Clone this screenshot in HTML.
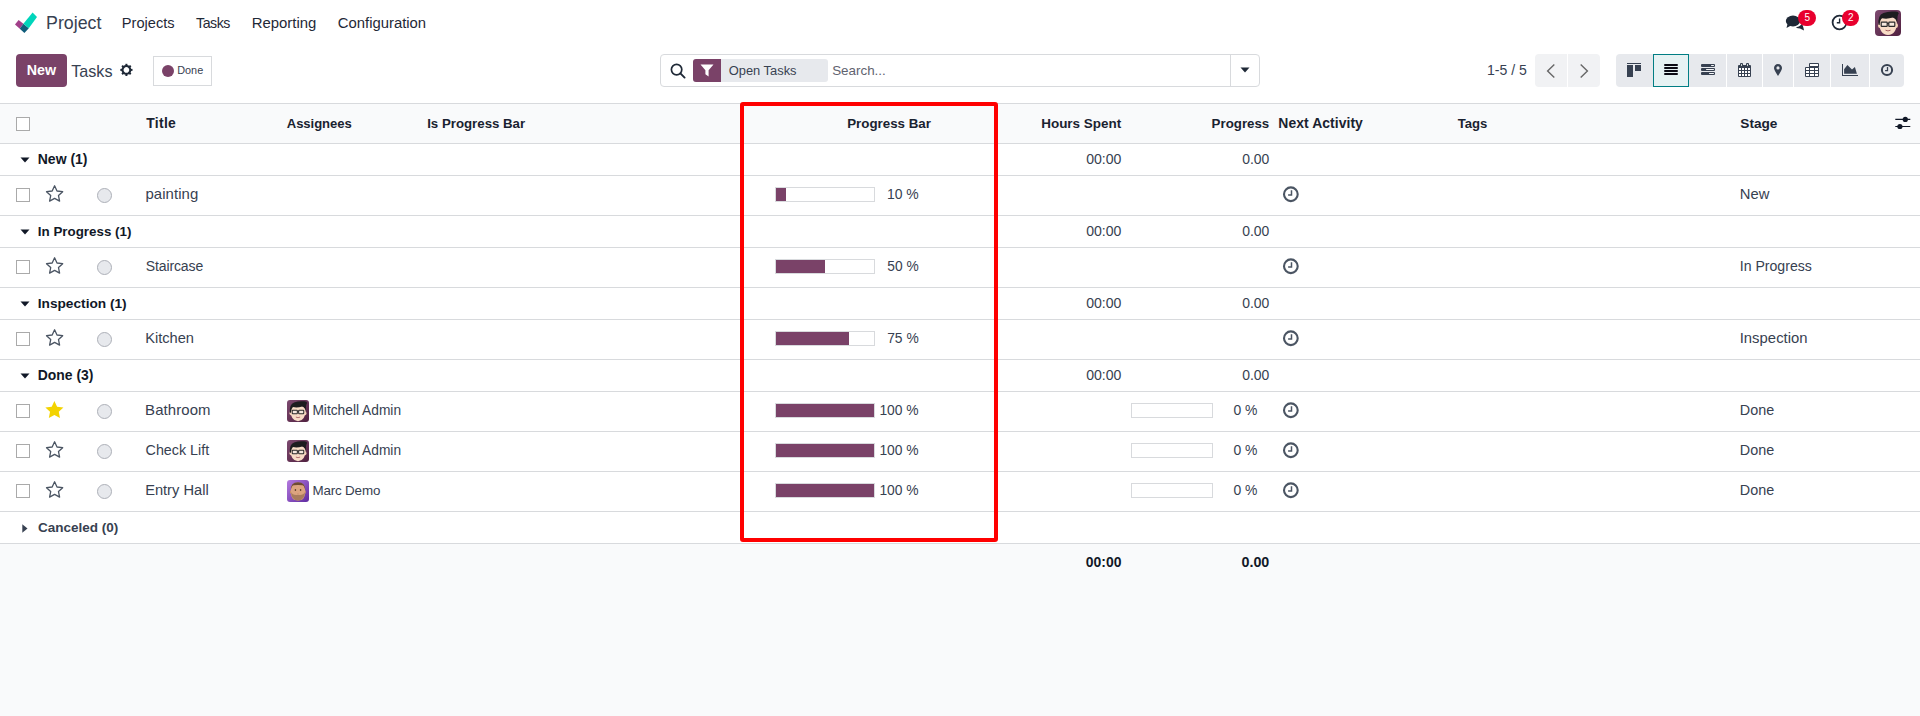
<!DOCTYPE html>
<html><head><meta charset="utf-8"><title>Tasks</title>
<style>
html,body{margin:0;padding:0;background:#fff;}
body{width:1920px;height:716px;position:relative;overflow:hidden;font-family:"Liberation Sans", sans-serif;}
.t{position:absolute;white-space:nowrap;}
.b{position:absolute;}
.bl{display:inline-block;width:0;height:0;vertical-align:baseline;}
</style></head><body>
<svg class="b" style="left:0px;top:0px" width="40" height="40" viewBox="0 0 40 40"><path d="M15 24.5 L18.6 19.9 L23.4 23.7 L19.8 28.7 Z" fill="#a2408a"/><path d="M19.8 28.7 L23.4 23.7 L28.8 28.2 L24.4 33.1 Z" fill="#0f5c7a"/><path d="M23.4 23.7 L32.6 12.6 L37 17 L28.8 28.2 Z" fill="#00d5bb"/></svg>
<span class="t" id="s0" style="left:46.08px;top:12px;font-size:17.8px;line-height:22px;font-weight:400;color:#374151">Project<i class="bl"></i></span>
<span class="t" id="s1" style="left:121.83px;top:14px;font-size:14.62px;line-height:18px;font-weight:400;color:#1f2937">Projects<i class="bl"></i></span>
<span class="t" id="s2" style="left:196.12px;top:14px;font-size:14.16px;line-height:18px;font-weight:400;color:#1f2937;letter-spacing:-0.473px">Tasks<i class="bl"></i></span>
<span class="t" id="s3" style="left:251.71px;top:14px;font-size:14.91px;line-height:19px;font-weight:400;color:#1f2937">Reporting<i class="bl"></i></span>
<span class="t" id="s4" style="left:337.76px;top:14px;font-size:14.86px;line-height:19px;font-weight:400;color:#1f2937">Configuration<i class="bl"></i></span>
<svg class="b" style="left:1785px;top:14px" width="20" height="18" viewBox="0 0 20 18"><ellipse cx="8" cy="7" rx="7.2" ry="5.4" fill="#1f2937"/><path d="M2.5 10 L1.5 14 L6 11.5 Z" fill="#1f2937"/><path d="M12 13 Q16 12 17 9 L18.5 14 L19 16.5 L15 14.5 Q13 14.5 11 13.8 Z" fill="#1f2937"/></svg>
<div class="b" style="left:1798px;top:10px;width:18px;height:16px;background:#e8002e;border-radius:8px"></div>
<span class="t" id="s5" style="left:1804.40px;top:12px;font-size:10px;line-height:12px;font-weight:400;color:#fff">5<i class="bl"></i></span>
<svg class="b" style="left:1831px;top:14px" width="17" height="17" viewBox="0 0 17 17"><circle cx="8.5" cy="8.5" r="6.9" fill="none" stroke="#1f2937" stroke-width="1.8"/><path d="M8.6 4.6 V8.8 H5.8" fill="none" stroke="#1f2937" stroke-width="1.4"/></svg>
<div class="b" style="left:1842px;top:10px;width:17px;height:16px;background:#e8002e;border-radius:8px"></div>
<span class="t" id="s6" style="left:1848.00px;top:12px;font-size:10px;line-height:12px;font-weight:400;color:#fff">2<i class="bl"></i></span>
<svg class="b" style="left:1875px;top:10px" width="26" height="26" viewBox="0 0 26 26">
<defs><linearGradient id="avga" x1="0" y1="0" x2="1" y2="1"><stop offset="0" stop-color="#7d4a70"/><stop offset="1" stop-color="#50203f"/></linearGradient></defs>
<rect width="26" height="26" rx="4" fill="url(#avga)"/>
<ellipse cx="4.6" cy="15.6" rx="1.6" ry="2.3" fill="#f3cfb3"/>
<ellipse cx="21.4" cy="15.6" rx="1.6" ry="2.3" fill="#f3cfb3"/>
<path d="M4.2 12 Q4.2 24.5 13 25 Q21.8 24.5 21.8 12 Q21 6.5 13 6.5 Q5 6.5 4.2 12 Z" fill="#f8dcc6"/>
<path d="M3.6 15 Q2.5 5 8.5 3 Q14 0.8 20 1.6 Q23.5 1.4 23.8 3.6 Q22.2 4.8 22.3 13 Q21 8.5 18 7.6 Q12 9.5 7 8.3 Q5 10 4.6 15 Z" fill="#1d1d1f"/>
<rect x="6.2" y="12.1" width="6" height="4.2" rx="0.6" fill="#f2f2f2" fill-opacity="0.55" stroke="#2a2a2a" stroke-width="1.2"/>
<rect x="13.8" y="12.1" width="6" height="4.2" rx="0.6" fill="#f2f2f2" fill-opacity="0.55" stroke="#2a2a2a" stroke-width="1.2"/>
<path d="M12.2 13.5 H13.8" stroke="#2a2a2a" stroke-width="1"/>
<path d="M10.5 20.2 Q13 21.6 15.5 20.2" fill="#fff" stroke="#9b4a4a" stroke-width="0.9"/>
</svg>
<div class="b" style="left:16px;top:54px;width:51px;height:33px;background:#7a4268;border-radius:4px"></div>
<span class="t" id="s7" style="left:26.74px;top:61px;font-size:14.26px;line-height:18px;font-weight:700;color:#fff">New<i class="bl"></i></span>
<span class="t" id="s8" style="left:71.18px;top:61px;font-size:16.16px;line-height:20px;font-weight:400;color:#374151">Tasks<i class="bl"></i></span>
<svg class="b" style="left:119px;top:63px" width="15" height="14" viewBox="0 0 15 14"><g transform="translate(7.4 6.9)"><rect x="-1" y="-6.1" width="2" height="2.6" fill="#1f2937" transform="rotate(0)"/><rect x="-1" y="-6.1" width="2" height="2.6" fill="#1f2937" transform="rotate(45)"/><rect x="-1" y="-6.1" width="2" height="2.6" fill="#1f2937" transform="rotate(90)"/><rect x="-1" y="-6.1" width="2" height="2.6" fill="#1f2937" transform="rotate(135)"/><rect x="-1" y="-6.1" width="2" height="2.6" fill="#1f2937" transform="rotate(180)"/><rect x="-1" y="-6.1" width="2" height="2.6" fill="#1f2937" transform="rotate(225)"/><rect x="-1" y="-6.1" width="2" height="2.6" fill="#1f2937" transform="rotate(270)"/><rect x="-1" y="-6.1" width="2" height="2.6" fill="#1f2937" transform="rotate(315)"/><circle r="3.9" fill="none" stroke="#1f2937" stroke-width="2.1"/></g></svg>
<div class="b" style="left:153px;top:56px;width:59px;height:30px;border:1px solid #d8dadd;box-sizing:border-box"></div>
<div class="b" style="left:162px;top:65px;width:12px;height:12px;background:#7a4268;border-radius:50%"></div>
<span class="t" id="s9" style="left:177.23px;top:63px;font-size:10.86px;line-height:14px;font-weight:400;color:#374151">Done<i class="bl"></i></span>
<div class="b" style="left:660px;top:54px;width:600px;height:33px;border:1px solid #d8dadd;border-radius:4px;box-sizing:border-box"></div>
<div class="b" style="left:1230px;top:55px;width:1px;height:31px;background:#d8dadd"></div>
<svg class="b" style="left:670px;top:63px" width="16" height="16" viewBox="0 0 16 16"><circle cx="6.6" cy="6.6" r="5.2" fill="none" stroke="#1f2937" stroke-width="1.7"/><path d="M10.4 10.4 L14.6 14.6" stroke="#1f2937" stroke-width="1.9" stroke-linecap="round"/></svg>
<div class="b" style="left:693px;top:59px;width:135px;height:23px;background:#e7e9ed;border-radius:3px"></div>
<div class="b" style="left:693px;top:59px;width:28px;height:23px;background:#7a4268;border-radius:3px 0 0 3px"></div>
<svg class="b" style="left:700px;top:64px" width="14" height="13" viewBox="0 0 14 13"><path d="M0.5 0.5 H13.5 L8.6 6.2 V12.5 L5.4 10.2 V6.2 Z" fill="#fff"/></svg>
<span class="t" id="s10" style="left:728.78px;top:63px;font-size:12.88px;line-height:16px;font-weight:400;color:#374151">Open Tasks<i class="bl"></i></span>
<span class="t" id="s11" style="left:832.16px;top:62px;font-size:13.4px;line-height:17px;font-weight:400;color:#5f636f">Search...<i class="bl"></i></span>
<svg class="b" style="left:1240px;top:67px" width="10" height="6" viewBox="0 0 10 6"><path d="M0.5 0.5 H9.5 L5 5.5 Z" fill="#1f2937"/></svg>
<span class="t" id="s12" style="left:1487.02px;top:61px;font-size:14.07px;line-height:18px;font-weight:400;color:#374151">1-5 / 5<i class="bl"></i></span>
<div class="b" style="left:1535px;top:54px;width:65px;height:33px;background:#f1f2f4;border-radius:4px"></div>
<div class="b" style="left:1567px;top:54px;width:1px;height:33px;background:#fff"></div>
<svg class="b" style="left:1545px;top:63px" width="12" height="16" viewBox="0 0 12 16"><path d="M9.3 1.4 L2.6 7.9 L9.3 14.4" fill="none" stroke="#666" stroke-width="1.4"/></svg>
<svg class="b" style="left:1578px;top:63px" width="12" height="16" viewBox="0 0 12 16"><path d="M2.7 1.4 L9.4 7.9 L2.7 14.4" fill="none" stroke="#666" stroke-width="1.4"/></svg>
<div class="b" style="left:1616px;top:54px;width:288px;height:33px;background:#e7e9ed;border-radius:4px"></div>
<div class="b" style="left:1726px;top:54px;width:1px;height:33px;background:#fff"></div>
<div class="b" style="left:1762px;top:54px;width:1px;height:33px;background:#fff"></div>
<div class="b" style="left:1793px;top:54px;width:1px;height:33px;background:#fff"></div>
<div class="b" style="left:1830px;top:54px;width:1px;height:33px;background:#fff"></div>
<div class="b" style="left:1869px;top:54px;width:1px;height:33px;background:#fff"></div>
<div class="b" style="left:1653px;top:54px;width:36px;height:33px;background:#e6f2f3;border:1px solid #017e84;box-sizing:border-box"></div>
<div class="b" style="left:1627px;top:63px;width:14px;height:1px;background:#374151"></div>
<div class="b" style="left:1627px;top:65px;width:6px;height:12px;background:#374151"></div>
<div class="b" style="left:1635px;top:65px;width:6px;height:6px;background:#374151"></div>
<div class="b" style="left:1664px;top:64px;width:14px;height:2px;background:#0b0b14;border-radius:1px"></div>
<div class="b" style="left:1664px;top:67px;width:14px;height:2px;background:#0b0b14;border-radius:1px"></div>
<div class="b" style="left:1664px;top:70px;width:14px;height:2px;background:#0b0b14;border-radius:1px"></div>
<div class="b" style="left:1664px;top:73px;width:14px;height:2px;background:#0b0b14;border-radius:1px"></div>
<div class="b" style="left:1701px;top:64px;width:14px;height:3px;background:#374151;border-radius:1px"></div>
<div class="b" style="left:1711px;top:65px;width:3px;height:1px;background:#f3f4f6;border-radius:0.5px"></div>
<div class="b" style="left:1701px;top:68px;width:14px;height:3px;background:#374151;border-radius:1px"></div>
<div class="b" style="left:1706px;top:69px;width:8px;height:1px;background:#f3f4f6;border-radius:0.5px"></div>
<div class="b" style="left:1701px;top:72px;width:14px;height:3px;background:#374151;border-radius:1px"></div>
<div class="b" style="left:1709px;top:73px;width:5px;height:1px;background:#f3f4f6;border-radius:0.5px"></div>
<div class="b" style="left:1738px;top:65px;width:13px;height:12px;background:#374151;border-radius:1px"></div>
<div class="b" style="left:1739px;top:68px;width:2px;height:2px;background:#fff"></div>
<div class="b" style="left:1739px;top:71px;width:2px;height:2px;background:#fff"></div>
<div class="b" style="left:1739px;top:74px;width:2px;height:2px;background:#fff"></div>
<div class="b" style="left:1742px;top:68px;width:2px;height:2px;background:#fff"></div>
<div class="b" style="left:1742px;top:71px;width:2px;height:2px;background:#fff"></div>
<div class="b" style="left:1742px;top:74px;width:2px;height:2px;background:#fff"></div>
<div class="b" style="left:1745px;top:68px;width:2px;height:2px;background:#fff"></div>
<div class="b" style="left:1745px;top:71px;width:2px;height:2px;background:#fff"></div>
<div class="b" style="left:1745px;top:74px;width:2px;height:2px;background:#fff"></div>
<div class="b" style="left:1748px;top:68px;width:2px;height:2px;background:#fff"></div>
<div class="b" style="left:1748px;top:71px;width:2px;height:2px;background:#fff"></div>
<div class="b" style="left:1748px;top:74px;width:2px;height:2px;background:#fff"></div>
<div class="b" style="left:1740px;top:63px;width:3px;height:3px;background:#374151;border-radius:1px"></div>
<div class="b" style="left:1746px;top:63px;width:3px;height:3px;background:#374151;border-radius:1px"></div>
<div class="b" style="left:1741px;top:64px;width:1px;height:2px;background:#c9d3cf"></div>
<div class="b" style="left:1747px;top:64px;width:1px;height:2px;background:#c9d3cf"></div>
<svg class="b" style="left:1773px;top:63px" width="10" height="14" viewBox="0 0 10 14"><path d="M5 1 C2.6 1 1 2.8 1 5 C1 7.2 5 13 5 13 C5 13 9 7.2 9 5 C9 2.8 7.4 1 5 1 Z M5 3.3 A1.6 1.6 0 1 1 5 6.5 A1.6 1.6 0 1 1 5 3.3 Z" fill="#374151" fill-rule="evenodd"/></svg>
<div class="b" style="left:1809px;top:63px;width:10px;height:4px;background:#374151;border-radius:1px 1px 0 0"></div>
<div class="b" style="left:1810px;top:64px;width:8px;height:2px;background:#fff"></div>
<div class="b" style="left:1805px;top:67px;width:14px;height:10px;background:#374151;border-radius:1px"></div>
<div class="b" style="left:1806px;top:68px;width:3px;height:2px;background:#fff"></div>
<div class="b" style="left:1806px;top:71px;width:3px;height:2px;background:#fff"></div>
<div class="b" style="left:1806px;top:74px;width:3px;height:2px;background:#fff"></div>
<div class="b" style="left:1810px;top:68px;width:4px;height:2px;background:#fff"></div>
<div class="b" style="left:1810px;top:71px;width:4px;height:2px;background:#fff"></div>
<div class="b" style="left:1810px;top:74px;width:4px;height:2px;background:#fff"></div>
<div class="b" style="left:1815px;top:68px;width:3px;height:2px;background:#fff"></div>
<div class="b" style="left:1815px;top:71px;width:3px;height:2px;background:#fff"></div>
<div class="b" style="left:1815px;top:74px;width:3px;height:2px;background:#fff"></div>
<svg class="b" style="left:1841px;top:63px" width="18" height="14" viewBox="0 0 18 14"><rect x="1" y="1" width="1" height="12" fill="#374151"/><rect x="1" y="12" width="16" height="1" fill="#374151"/><path d="M3.1 10.7 V6.3 L6.4 2.1 L11 6.5 L13.9 4.1 L15.9 10.7 Z" fill="#374151"/></svg>
<svg class="b" style="left:1880px;top:63px" width="14" height="14" viewBox="0 0 14 14"><circle cx="7" cy="7" r="5.1" fill="none" stroke="#374151" stroke-width="2"/><path d="M7.5 4.1 V7.6 H5.1" fill="none" stroke="#374151" stroke-width="1.3"/></svg>
<div class="b" style="left:0px;top:103px;width:1920px;height:41px;background:#f9fafb;border-top:1px solid #d8dadd;border-bottom:1px solid #d8dadd;box-sizing:border-box"></div>
<div class="b" style="left:0px;top:543px;width:1920px;height:173px;background:#f9fafb;border-top:1px solid #d8dadd;box-sizing:border-box"></div>
<div class="b" style="left:16px;top:117px;width:14px;height:14px;border:1px solid #aaaaaa;background:#fff;box-sizing:border-box"></div>
<span class="t" id="s13" style="left:146.26px;top:115px;font-size:13.91px;line-height:17px;font-weight:700;color:#1a2230;letter-spacing:0.317px">Title<i class="bl"></i></span>
<span class="t" id="s14" style="left:286.74px;top:116px;font-size:13.09px;line-height:16px;font-weight:700;color:#1a2230;letter-spacing:-0.046px">Assignees<i class="bl"></i></span>
<span class="t" id="s15" style="left:427.20px;top:115px;font-size:13.25px;line-height:17px;font-weight:700;color:#1a2230">Is Progress Bar<i class="bl"></i></span>
<span class="t" id="s16" style="left:847.20px;top:115px;font-size:13.33px;line-height:17px;font-weight:700;color:#1a2230">Progress Bar<i class="bl"></i></span>
<span class="t" id="s17" style="left:1041.20px;top:115px;font-size:13.48px;line-height:17px;font-weight:700;color:#1a2230">Hours Spent<i class="bl"></i></span>
<span class="t" id="s18" style="left:1211.62px;top:115px;font-size:13.3px;line-height:17px;font-weight:700;color:#1a2230">Progress<i class="bl"></i></span>
<span class="t" id="s19" style="left:1278.37px;top:115px;font-size:13.91px;line-height:17px;font-weight:700;color:#1a2230;letter-spacing:0.062px">Next Activity<i class="bl"></i></span>
<span class="t" id="s20" style="left:1457.67px;top:116px;font-size:13.15px;line-height:16px;font-weight:700;color:#1a2230">Tags<i class="bl"></i></span>
<span class="t" id="s21" style="left:1740.33px;top:115px;font-size:13.63px;line-height:17px;font-weight:700;color:#1a2230">Stage<i class="bl"></i></span>
<svg class="b" style="left:1895px;top:116px" width="16" height="14" viewBox="0 0 16 14"><path d="M0.3 3.4 H15.3 M0.3 10.5 H15.3" stroke="#111827" stroke-width="1.2"/><circle cx="10.3" cy="3.4" r="2.6" fill="#111827"/><circle cx="4.9" cy="10.5" r="2.6" fill="#111827"/></svg>
<div class="b" style="left:0px;top:175px;width:1920px;height:1px;background:#d8dadd"></div>
<svg class="b" style="left:20px;top:157px" width="10" height="6" viewBox="0 0 10 6"><path d="M0.5 0.5 H9.5 L5 5.5 Z" fill="#111827"/></svg>
<span class="t" id="s22" style="left:37.76px;top:151px;font-size:13.99px;line-height:17px;font-weight:700;color:#111827">New (1)<i class="bl"></i></span>
<span class="t" id="s23" style="left:1086.17px;top:150px;font-size:14.08px;line-height:18px;font-weight:400;color:#374151">00:00<i class="bl"></i></span>
<span class="t" id="s24" style="left:1242.17px;top:151px;font-size:13.94px;line-height:17px;font-weight:400;color:#374151">0.00<i class="bl"></i></span>
<div class="b" style="left:0px;top:215px;width:1920px;height:1px;background:#d8dadd"></div>
<div class="b" style="left:16px;top:188px;width:14px;height:14px;border:1px solid #aaaaaa;background:#fff;box-sizing:border-box"></div>
<svg class="b" style="left:45px;top:184px" width="20" height="20" viewBox="0 0 20 20"><path d="M9.60 1.80 L12.01 6.98 L17.68 7.67 L13.50 11.57 L14.60 17.18 L9.60 14.40 L4.60 17.18 L5.70 11.57 L1.52 7.67 L7.19 6.98 Z" fill="none" stroke="#4b5563" stroke-width="1.3" stroke-linejoin="round"/></svg>
<div class="b" style="left:97px;top:188px;width:15px;height:15px;background:#e7e9ed;border:1px solid #adb0b8;border-radius:50%;box-sizing:border-box"></div>
<span class="t" id="s25" style="left:145.40px;top:184px;font-size:14.94px;line-height:19px;font-weight:400;color:#374151;letter-spacing:0.074px">painting<i class="bl"></i></span>
<div class="b" style="left:775px;top:187px;width:100px;height:15px;border:1px solid #d8dadd;background:#fff;box-sizing:border-box"></div>
<div class="b" style="left:776px;top:188px;width:10px;height:13px;background:#7a4268"></div>
<span class="t" id="s26" style="left:886.93px;top:186px;font-size:13.94px;line-height:17px;font-weight:400;color:#374151">10 %<i class="bl"></i></span>
<svg class="b" style="left:1282px;top:186px" width="17" height="17" viewBox="0 0 17 17"><circle cx="8.85" cy="8.25" r="6.85" fill="none" stroke="#4b5563" stroke-width="2.1"/><path d="M9.5 4.3 V9 H6.1" fill="none" stroke="#4b5563" stroke-width="1.5"/></svg>
<span class="t" id="s27" style="left:1739.82px;top:185px;font-size:14.78px;line-height:18px;font-weight:400;color:#374151">New<i class="bl"></i></span>
<div class="b" style="left:0px;top:247px;width:1920px;height:1px;background:#d8dadd"></div>
<svg class="b" style="left:20px;top:229px" width="10" height="6" viewBox="0 0 10 6"><path d="M0.5 0.5 H9.5 L5 5.5 Z" fill="#111827"/></svg>
<span class="t" id="s28" style="left:37.80px;top:223px;font-size:13.39px;line-height:17px;font-weight:700;color:#111827">In Progress (1)<i class="bl"></i></span>
<span class="t" id="s29" style="left:1086.17px;top:222px;font-size:14.08px;line-height:18px;font-weight:400;color:#374151">00:00<i class="bl"></i></span>
<span class="t" id="s30" style="left:1242.17px;top:223px;font-size:13.94px;line-height:17px;font-weight:400;color:#374151">0.00<i class="bl"></i></span>
<div class="b" style="left:0px;top:287px;width:1920px;height:1px;background:#d8dadd"></div>
<div class="b" style="left:16px;top:260px;width:14px;height:14px;border:1px solid #aaaaaa;background:#fff;box-sizing:border-box"></div>
<svg class="b" style="left:45px;top:256px" width="20" height="20" viewBox="0 0 20 20"><path d="M9.60 1.80 L12.01 6.98 L17.68 7.67 L13.50 11.57 L14.60 17.18 L9.60 14.40 L4.60 17.18 L5.70 11.57 L1.52 7.67 L7.19 6.98 Z" fill="none" stroke="#4b5563" stroke-width="1.3" stroke-linejoin="round"/></svg>
<div class="b" style="left:97px;top:260px;width:15px;height:15px;background:#e7e9ed;border:1px solid #adb0b8;border-radius:50%;box-sizing:border-box"></div>
<span class="t" id="s31" style="left:145.74px;top:257px;font-size:14.06px;line-height:18px;font-weight:400;color:#374151;letter-spacing:-0.132px">Staircase<i class="bl"></i></span>
<div class="b" style="left:775px;top:259px;width:100px;height:15px;border:1px solid #d8dadd;background:#fff;box-sizing:border-box"></div>
<div class="b" style="left:776px;top:260px;width:49px;height:13px;background:#7a4268"></div>
<span class="t" id="s32" style="left:887.36px;top:258px;font-size:13.75px;line-height:17px;font-weight:400;color:#374151">50 %<i class="bl"></i></span>
<svg class="b" style="left:1282px;top:258px" width="17" height="17" viewBox="0 0 17 17"><circle cx="8.85" cy="8.25" r="6.85" fill="none" stroke="#4b5563" stroke-width="2.1"/><path d="M9.5 4.3 V9 H6.1" fill="none" stroke="#4b5563" stroke-width="1.5"/></svg>
<span class="t" id="s33" style="left:1739.73px;top:257px;font-size:14.12px;line-height:18px;font-weight:400;color:#374151">In Progress<i class="bl"></i></span>
<div class="b" style="left:0px;top:319px;width:1920px;height:1px;background:#d8dadd"></div>
<svg class="b" style="left:20px;top:301px" width="10" height="6" viewBox="0 0 10 6"><path d="M0.5 0.5 H9.5 L5 5.5 Z" fill="#111827"/></svg>
<span class="t" id="s34" style="left:37.78px;top:295px;font-size:13.68px;line-height:17px;font-weight:700;color:#111827">Inspection (1)<i class="bl"></i></span>
<span class="t" id="s35" style="left:1086.17px;top:294px;font-size:14.08px;line-height:18px;font-weight:400;color:#374151">00:00<i class="bl"></i></span>
<span class="t" id="s36" style="left:1242.17px;top:295px;font-size:13.94px;line-height:17px;font-weight:400;color:#374151">0.00<i class="bl"></i></span>
<div class="b" style="left:0px;top:359px;width:1920px;height:1px;background:#d8dadd"></div>
<div class="b" style="left:16px;top:332px;width:14px;height:14px;border:1px solid #aaaaaa;background:#fff;box-sizing:border-box"></div>
<svg class="b" style="left:45px;top:328px" width="20" height="20" viewBox="0 0 20 20"><path d="M9.60 1.80 L12.01 6.98 L17.68 7.67 L13.50 11.57 L14.60 17.18 L9.60 14.40 L4.60 17.18 L5.70 11.57 L1.52 7.67 L7.19 6.98 Z" fill="none" stroke="#4b5563" stroke-width="1.3" stroke-linejoin="round"/></svg>
<div class="b" style="left:97px;top:332px;width:15px;height:15px;background:#e7e9ed;border:1px solid #adb0b8;border-radius:50%;box-sizing:border-box"></div>
<span class="t" id="s37" style="left:145.13px;top:329px;font-size:14.66px;line-height:18px;font-weight:400;color:#374151">Kitchen<i class="bl"></i></span>
<div class="b" style="left:775px;top:331px;width:100px;height:15px;border:1px solid #d8dadd;background:#fff;box-sizing:border-box"></div>
<div class="b" style="left:776px;top:332px;width:73px;height:13px;background:#7a4268"></div>
<span class="t" id="s38" style="left:887.20px;top:330px;font-size:13.82px;line-height:17px;font-weight:400;color:#374151">75 %<i class="bl"></i></span>
<svg class="b" style="left:1282px;top:330px" width="17" height="17" viewBox="0 0 17 17"><circle cx="8.85" cy="8.25" r="6.85" fill="none" stroke="#4b5563" stroke-width="2.1"/><path d="M9.5 4.3 V9 H6.1" fill="none" stroke="#4b5563" stroke-width="1.5"/></svg>
<span class="t" id="s39" style="left:1739.67px;top:329px;font-size:14.83px;line-height:19px;font-weight:400;color:#374151;letter-spacing:0.039px">Inspection<i class="bl"></i></span>
<div class="b" style="left:0px;top:391px;width:1920px;height:1px;background:#d8dadd"></div>
<svg class="b" style="left:20px;top:373px" width="10" height="6" viewBox="0 0 10 6"><path d="M0.5 0.5 H9.5 L5 5.5 Z" fill="#111827"/></svg>
<span class="t" id="s40" style="left:37.77px;top:367px;font-size:13.91px;line-height:17px;font-weight:700;color:#111827">Done (3)<i class="bl"></i></span>
<span class="t" id="s41" style="left:1086.17px;top:366px;font-size:14.08px;line-height:18px;font-weight:400;color:#374151">00:00<i class="bl"></i></span>
<span class="t" id="s42" style="left:1242.17px;top:367px;font-size:13.94px;line-height:17px;font-weight:400;color:#374151">0.00<i class="bl"></i></span>
<div class="b" style="left:0px;top:431px;width:1920px;height:1px;background:#d8dadd"></div>
<div class="b" style="left:16px;top:404px;width:14px;height:14px;border:1px solid #aaaaaa;background:#fff;box-sizing:border-box"></div>
<svg class="b" style="left:45px;top:400px" width="20" height="20" viewBox="0 0 20 20"><path d="M9.40 0.90 L12.10 6.68 L18.44 7.46 L13.77 11.82 L14.98 18.09 L9.40 15.00 L3.82 18.09 L5.03 11.82 L0.36 7.46 L6.70 6.68 Z" fill="#f3d300"/></svg>
<div class="b" style="left:97px;top:404px;width:15px;height:15px;background:#e7e9ed;border:1px solid #adb0b8;border-radius:50%;box-sizing:border-box"></div>
<span class="t" id="s43" style="left:145.10px;top:400px;font-size:14.94px;line-height:19px;font-weight:400;color:#374151;letter-spacing:0.098px">Bathroom<i class="bl"></i></span>
<svg class="b" style="left:287px;top:400px" width="22" height="22" viewBox="0 0 26 26">
<defs><linearGradient id="avg391" x1="0" y1="0" x2="1" y2="1"><stop offset="0" stop-color="#7d4a70"/><stop offset="1" stop-color="#50203f"/></linearGradient></defs>
<rect width="26" height="26" rx="3.5" fill="url(#avg391)"/>
<ellipse cx="4.6" cy="15.6" rx="1.6" ry="2.3" fill="#f3cfb3"/>
<ellipse cx="21.4" cy="15.6" rx="1.6" ry="2.3" fill="#f3cfb3"/>
<path d="M4.2 12 Q4.2 24.5 13 25 Q21.8 24.5 21.8 12 Q21 6.5 13 6.5 Q5 6.5 4.2 12 Z" fill="#f8dcc6"/>
<path d="M3.6 15 Q2.5 5 8.5 3 Q14 0.8 20 1.6 Q23.5 1.4 23.8 3.6 Q22.2 4.8 22.3 13 Q21 8.5 18 7.6 Q12 9.5 7 8.3 Q5 10 4.6 15 Z" fill="#1d1d1f"/>
<rect x="6.2" y="12.1" width="6" height="4.2" rx="0.6" fill="#f2f2f2" fill-opacity="0.55" stroke="#2a2a2a" stroke-width="1.2"/>
<rect x="13.8" y="12.1" width="6" height="4.2" rx="0.6" fill="#f2f2f2" fill-opacity="0.55" stroke="#2a2a2a" stroke-width="1.2"/>
<path d="M12.2 13.5 H13.8" stroke="#2a2a2a" stroke-width="1"/>
<path d="M10.5 20.2 Q13 21.6 15.5 20.2" fill="#fff" stroke="#9b4a4a" stroke-width="0.9"/>
</svg>
<span class="t" id="s44" style="left:312.40px;top:402px;font-size:13.76px;line-height:17px;font-weight:400;color:#374151">Mitchell Admin<i class="bl"></i></span>
<div class="b" style="left:775px;top:403px;width:100px;height:15px;border:1px solid #d8dadd;background:#fff;box-sizing:border-box"></div>
<div class="b" style="left:776px;top:404px;width:98px;height:13px;background:#7a4268"></div>
<span class="t" id="s45" style="left:879.43px;top:402px;font-size:13.85px;line-height:17px;font-weight:400;color:#374151">100 %<i class="bl"></i></span>
<div class="b" style="left:1131px;top:403px;width:82px;height:15px;border:1px solid #d8dadd;background:#fff;box-sizing:border-box"></div>
<span class="t" id="s46" style="left:1233.39px;top:402px;font-size:13.94px;line-height:17px;font-weight:400;color:#374151">0 %<i class="bl"></i></span>
<svg class="b" style="left:1282px;top:402px" width="17" height="17" viewBox="0 0 17 17"><circle cx="8.85" cy="8.25" r="6.85" fill="none" stroke="#4b5563" stroke-width="2.1"/><path d="M9.5 4.3 V9 H6.1" fill="none" stroke="#4b5563" stroke-width="1.5"/></svg>
<span class="t" id="s47" style="left:1739.85px;top:401px;font-size:14.38px;line-height:18px;font-weight:400;color:#374151">Done<i class="bl"></i></span>
<div class="b" style="left:0px;top:471px;width:1920px;height:1px;background:#d8dadd"></div>
<div class="b" style="left:16px;top:444px;width:14px;height:14px;border:1px solid #aaaaaa;background:#fff;box-sizing:border-box"></div>
<svg class="b" style="left:45px;top:440px" width="20" height="20" viewBox="0 0 20 20"><path d="M9.60 1.80 L12.01 6.98 L17.68 7.67 L13.50 11.57 L14.60 17.18 L9.60 14.40 L4.60 17.18 L5.70 11.57 L1.52 7.67 L7.19 6.98 Z" fill="none" stroke="#4b5563" stroke-width="1.3" stroke-linejoin="round"/></svg>
<div class="b" style="left:97px;top:444px;width:15px;height:15px;background:#e7e9ed;border:1px solid #adb0b8;border-radius:50%;box-sizing:border-box"></div>
<span class="t" id="s48" style="left:145.58px;top:441px;font-size:14.32px;line-height:18px;font-weight:400;color:#374151">Check Lift<i class="bl"></i></span>
<svg class="b" style="left:287px;top:440px" width="22" height="22" viewBox="0 0 26 26">
<defs><linearGradient id="avg431" x1="0" y1="0" x2="1" y2="1"><stop offset="0" stop-color="#7d4a70"/><stop offset="1" stop-color="#50203f"/></linearGradient></defs>
<rect width="26" height="26" rx="3.5" fill="url(#avg431)"/>
<ellipse cx="4.6" cy="15.6" rx="1.6" ry="2.3" fill="#f3cfb3"/>
<ellipse cx="21.4" cy="15.6" rx="1.6" ry="2.3" fill="#f3cfb3"/>
<path d="M4.2 12 Q4.2 24.5 13 25 Q21.8 24.5 21.8 12 Q21 6.5 13 6.5 Q5 6.5 4.2 12 Z" fill="#f8dcc6"/>
<path d="M3.6 15 Q2.5 5 8.5 3 Q14 0.8 20 1.6 Q23.5 1.4 23.8 3.6 Q22.2 4.8 22.3 13 Q21 8.5 18 7.6 Q12 9.5 7 8.3 Q5 10 4.6 15 Z" fill="#1d1d1f"/>
<rect x="6.2" y="12.1" width="6" height="4.2" rx="0.6" fill="#f2f2f2" fill-opacity="0.55" stroke="#2a2a2a" stroke-width="1.2"/>
<rect x="13.8" y="12.1" width="6" height="4.2" rx="0.6" fill="#f2f2f2" fill-opacity="0.55" stroke="#2a2a2a" stroke-width="1.2"/>
<path d="M12.2 13.5 H13.8" stroke="#2a2a2a" stroke-width="1"/>
<path d="M10.5 20.2 Q13 21.6 15.5 20.2" fill="#fff" stroke="#9b4a4a" stroke-width="0.9"/>
</svg>
<span class="t" id="s49" style="left:312.40px;top:442px;font-size:13.76px;line-height:17px;font-weight:400;color:#374151">Mitchell Admin<i class="bl"></i></span>
<div class="b" style="left:775px;top:443px;width:100px;height:15px;border:1px solid #d8dadd;background:#fff;box-sizing:border-box"></div>
<div class="b" style="left:776px;top:444px;width:98px;height:13px;background:#7a4268"></div>
<span class="t" id="s50" style="left:879.43px;top:442px;font-size:13.85px;line-height:17px;font-weight:400;color:#374151">100 %<i class="bl"></i></span>
<div class="b" style="left:1131px;top:443px;width:82px;height:15px;border:1px solid #d8dadd;background:#fff;box-sizing:border-box"></div>
<span class="t" id="s51" style="left:1233.39px;top:442px;font-size:13.94px;line-height:17px;font-weight:400;color:#374151">0 %<i class="bl"></i></span>
<svg class="b" style="left:1282px;top:442px" width="17" height="17" viewBox="0 0 17 17"><circle cx="8.85" cy="8.25" r="6.85" fill="none" stroke="#4b5563" stroke-width="2.1"/><path d="M9.5 4.3 V9 H6.1" fill="none" stroke="#4b5563" stroke-width="1.5"/></svg>
<span class="t" id="s52" style="left:1739.85px;top:441px;font-size:14.38px;line-height:18px;font-weight:400;color:#374151">Done<i class="bl"></i></span>
<div class="b" style="left:0px;top:511px;width:1920px;height:1px;background:#d8dadd"></div>
<div class="b" style="left:16px;top:484px;width:14px;height:14px;border:1px solid #aaaaaa;background:#fff;box-sizing:border-box"></div>
<svg class="b" style="left:45px;top:480px" width="20" height="20" viewBox="0 0 20 20"><path d="M9.60 1.80 L12.01 6.98 L17.68 7.67 L13.50 11.57 L14.60 17.18 L9.60 14.40 L4.60 17.18 L5.70 11.57 L1.52 7.67 L7.19 6.98 Z" fill="none" stroke="#4b5563" stroke-width="1.3" stroke-linejoin="round"/></svg>
<div class="b" style="left:97px;top:484px;width:15px;height:15px;background:#e7e9ed;border:1px solid #adb0b8;border-radius:50%;box-sizing:border-box"></div>
<span class="t" id="s53" style="left:145.13px;top:481px;font-size:14.67px;line-height:18px;font-weight:400;color:#374151">Entry Hall<i class="bl"></i></span>
<svg class="b" style="left:287px;top:480px" width="22" height="22" viewBox="0 0 22 22">
<defs><linearGradient id="mg471" x1="0" y1="0" x2="1" y2="1"><stop offset="0" stop-color="#b57be0"/><stop offset="1" stop-color="#5e2aa0"/></linearGradient></defs>
<rect width="22" height="22" rx="3" fill="url(#mg471)"/>
<ellipse cx="4.2" cy="12" rx="1.3" ry="2" fill="#c98e6a"/>
<ellipse cx="17.6" cy="12" rx="1.3" ry="2" fill="#c98e6a"/>
<path d="M4 9 Q4 2.5 11 2.5 Q18 2.5 18 9 V13 Q18 20.5 11 20.5 Q4 20.5 4 13 Z" fill="#dca47f"/>
<path d="M4 12 Q4.5 20.5 11 20.5 Q17.5 20.5 18 12 Q16.5 15.5 11 14.8 Q5.5 15.5 4 12 Z" fill="#a97c5c"/>
<path d="M3.8 10 Q3.5 2.5 11 2.2 Q18.5 2.5 18.2 10 Q17.5 6 15.5 5.2 Q11 4.6 6.5 5.2 Q4.5 6 3.8 10 Z" fill="#6e4a33"/>
<ellipse cx="8.4" cy="10" rx="0.8" ry="0.7" fill="#2a1a10"/>
<ellipse cx="13.6" cy="10" rx="0.8" ry="0.7" fill="#2a1a10"/>
<path d="M10.2 13.2 Q11 13.9 11.8 13.2" fill="#b0604a"/>
</svg>
<span class="t" id="s54" style="left:312.43px;top:482px;font-size:13.39px;line-height:17px;font-weight:400;color:#374151;letter-spacing:-0.152px">Marc Demo<i class="bl"></i></span>
<div class="b" style="left:775px;top:483px;width:100px;height:15px;border:1px solid #d8dadd;background:#fff;box-sizing:border-box"></div>
<div class="b" style="left:776px;top:484px;width:98px;height:13px;background:#7a4268"></div>
<span class="t" id="s55" style="left:879.43px;top:482px;font-size:13.85px;line-height:17px;font-weight:400;color:#374151">100 %<i class="bl"></i></span>
<div class="b" style="left:1131px;top:483px;width:82px;height:15px;border:1px solid #d8dadd;background:#fff;box-sizing:border-box"></div>
<span class="t" id="s56" style="left:1233.39px;top:482px;font-size:13.94px;line-height:17px;font-weight:400;color:#374151">0 %<i class="bl"></i></span>
<svg class="b" style="left:1282px;top:482px" width="17" height="17" viewBox="0 0 17 17"><circle cx="8.85" cy="8.25" r="6.85" fill="none" stroke="#4b5563" stroke-width="2.1"/><path d="M9.5 4.3 V9 H6.1" fill="none" stroke="#4b5563" stroke-width="1.5"/></svg>
<span class="t" id="s57" style="left:1739.85px;top:481px;font-size:14.38px;line-height:18px;font-weight:400;color:#374151">Done<i class="bl"></i></span>
<div class="b" style="left:0px;top:543px;width:1920px;height:1px;background:#d8dadd"></div>
<svg class="b" style="left:22px;top:524px" width="6" height="9" viewBox="0 0 6 9"><path d="M0.3 0.3 V8.7 L5.5 4.5 Z" fill="#374151"/></svg>
<span class="t" id="s58" style="left:38.06px;top:519px;font-size:13.51px;line-height:17px;font-weight:700;color:#374151">Canceled (0)<i class="bl"></i></span>
<span class="t" id="s59" style="left:1085.78px;top:554px;font-size:13.93px;line-height:17px;font-weight:700;color:#111827">00:00<i class="bl"></i></span>
<span class="t" id="s60" style="left:1241.47px;top:553px;font-size:14.31px;line-height:18px;font-weight:700;color:#111827">0.00<i class="bl"></i></span>
<div class="b" style="left:740px;top:102px;width:258px;height:440px;border:4px solid #ff0000;border-radius:3px;box-sizing:border-box"></div>
</body></html>
